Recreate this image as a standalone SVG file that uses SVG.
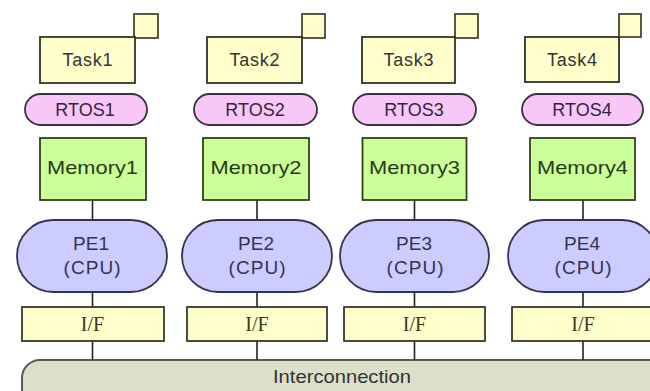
<svg xmlns="http://www.w3.org/2000/svg" width="650" height="391" viewBox="0 0 650 391">
  <style>
    text { font-family: "Liberation Sans", Arial, sans-serif; font-size: 18px; text-anchor: middle; fill: #333333; }
    .task { fill: #ffffcc; stroke: #333326; stroke-width: 1.8; }
    .tag { fill: #ffffcc; stroke: #4a4630; stroke-width: 1.8; }
    .rtos { fill: #f7c8f7; stroke: #3d3040; stroke-width: 1.8; }
    .rtos-t { fill: #33263a; }
    .mem { fill: #ccff99; stroke: #334022; stroke-width: 1.8; }
    .mem-t { fill: #263a18; font-size: 19px; }
    .pe { fill: #ccccff; stroke: #333350; stroke-width: 1.8; }
    .pe-t { fill: #333350; font-size: 19px; }
    .if { fill: #ffffcc; stroke: #3a3a2a; stroke-width: 1.8; }
    .if-t { fill: #3a3a22; font-family: "Liberation Serif", "Times New Roman", serif; font-size: 20px; }
    .bus { fill: #dcdfca; stroke: #5a5a4a; stroke-width: 2; }
    .bus-t { font-size: 19px; fill: #333333; }
    .wire { stroke: #222222; stroke-width: 1.6; fill: none; }
  </style>

  <rect width="650" height="391" fill="#ffffff"/>

  <!-- shared bus along the bottom -->
  <g id="interconnection">
    <rect class="bus" x="22" y="360" width="660" height="50" rx="18" ry="18"/>
    <text class="bus-t" x="342" y="383" textLength="138" lengthAdjust="spacingAndGlyphs">Interconnection</text>
  </g>

  <!-- vertical links: memory-PE, PE-I/F, I/F-bus -->
  <g id="connectors">
    <path class="wire" d="M92.5 200 V220 M92.5 292 V307 M92.5 341 V360"/>
    <path class="wire" d="M257 200 V220 M257 292 V307 M257 341 V360"/>
    <path class="wire" d="M414.5 200 V220 M414.5 292 V307 M414.5 341 V360"/>
    <path class="wire" d="M583 200 V220 M583 292 V307 M583 341 V360"/>
  </g>

  <!-- column 1 -->
  <g id="task1">
    <rect class="tag" x="134" y="14" width="24" height="24"/>
    <rect class="task" x="40" y="37" width="95" height="46"/>
    <text x="87.5" y="66" textLength="50" lengthAdjust="spacing">Task1</text>
  </g>
  <g id="rtos1">
    <rect class="rtos" x="25" y="94" width="122" height="31" rx="15.5" ry="15.5"/>
    <text class="rtos-t" x="85" y="116">RTOS1</text>
  </g>
  <g id="memory1">
    <rect class="mem" x="40" y="138" width="106" height="62"/>
    <text class="mem-t" x="92.5" y="174" textLength="91" lengthAdjust="spacingAndGlyphs">Memory1</text>
  </g>
  <g id="pe1">
    <rect class="pe" x="17" y="220" width="150" height="72" rx="36" ry="36"/>
    <text class="pe-t" x="91" y="250">PE1</text>
    <text class="pe-t" x="92" y="274" textLength="57" lengthAdjust="spacing">(CPU)</text>
  </g>
  <g id="if1">
    <rect class="if" x="22" y="307" width="142" height="34"/>
    <text class="if-t" x="92.5" y="331">I/F</text>
  </g>

  <!-- column 2 -->
  <g id="task2">
    <rect class="tag" x="302" y="14" width="23" height="24"/>
    <rect class="task" x="207" y="37" width="95" height="46"/>
    <text x="254.5" y="66" textLength="50" lengthAdjust="spacing">Task2</text>
  </g>
  <g id="rtos2">
    <rect class="rtos" x="194" y="94" width="123" height="31" rx="15.5" ry="15.5"/>
    <text class="rtos-t" x="255" y="116">RTOS2</text>
  </g>
  <g id="memory2">
    <rect class="mem" x="203" y="138" width="106" height="62"/>
    <text class="mem-t" x="256" y="174" textLength="91" lengthAdjust="spacingAndGlyphs">Memory2</text>
  </g>
  <g id="pe2">
    <rect class="pe" x="182" y="220" width="150" height="72" rx="36" ry="36"/>
    <text class="pe-t" x="256" y="250">PE2</text>
    <text class="pe-t" x="257" y="274" textLength="57" lengthAdjust="spacing">(CPU)</text>
  </g>
  <g id="if2">
    <rect class="if" x="187" y="307" width="140" height="34"/>
    <text class="if-t" x="257" y="331">I/F</text>
  </g>

  <!-- column 3 -->
  <g id="task3">
    <rect class="tag" x="455" y="14" width="23" height="24"/>
    <rect class="task" x="362" y="37" width="93" height="46"/>
    <text x="408.5" y="66" textLength="50" lengthAdjust="spacing">Task3</text>
  </g>
  <g id="rtos3">
    <rect class="rtos" x="353" y="94" width="123" height="31" rx="15.5" ry="15.5"/>
    <text class="rtos-t" x="414" y="116">RTOS3</text>
  </g>
  <g id="memory3">
    <rect class="mem" x="362.5" y="138" width="104" height="62"/>
    <text class="mem-t" x="414.5" y="174" textLength="91" lengthAdjust="spacingAndGlyphs">Memory3</text>
  </g>
  <g id="pe3">
    <rect class="pe" x="340" y="220" width="149" height="72" rx="36" ry="36"/>
    <text class="pe-t" x="414" y="250">PE3</text>
    <text class="pe-t" x="415" y="274" textLength="57" lengthAdjust="spacing">(CPU)</text>
  </g>
  <g id="if3">
    <rect class="if" x="344" y="307" width="141" height="34"/>
    <text class="if-t" x="414.5" y="331">I/F</text>
  </g>

  <!-- column 4 (runs past the right edge) -->
  <g id="task4">
    <rect class="tag" x="619" y="14" width="22" height="23"/>
    <rect class="task" x="525" y="37" width="94" height="45"/>
    <text x="572" y="66" textLength="50" lengthAdjust="spacing">Task4</text>
  </g>
  <g id="rtos4">
    <rect class="rtos" x="522" y="94" width="121" height="31" rx="15.5" ry="15.5"/>
    <text class="rtos-t" x="582" y="116">RTOS4</text>
  </g>
  <g id="memory4">
    <rect class="mem" x="530" y="138" width="105" height="62"/>
    <text class="mem-t" x="582.5" y="174" textLength="91" lengthAdjust="spacingAndGlyphs">Memory4</text>
  </g>
  <g id="pe4">
    <rect class="pe" x="508" y="220" width="150" height="72" rx="36" ry="36"/>
    <text class="pe-t" x="582" y="250">PE4</text>
    <text class="pe-t" x="583" y="274" textLength="57" lengthAdjust="spacing">(CPU)</text>
  </g>
  <g id="if4">
    <rect class="if" x="512" y="307" width="145" height="34"/>
    <text class="if-t" x="583" y="331">I/F</text>
  </g>
</svg>
